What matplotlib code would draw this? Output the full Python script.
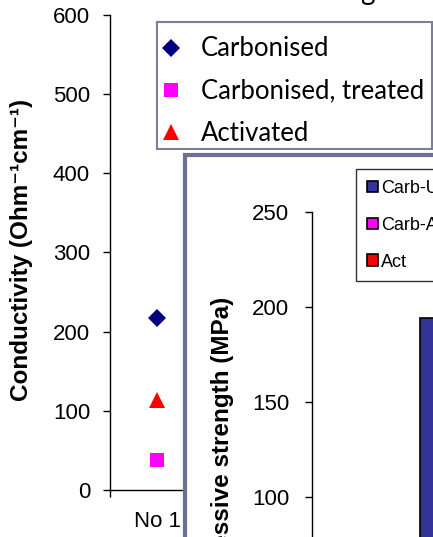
import matplotlib
matplotlib.use("Agg")
import matplotlib.pyplot as plt
from matplotlib.patches import Rectangle, Patch

# ---- data -------------------------------------------------------------
sample_labels = ["No 1"]
conductivity_series = ["Carbonised", "Carbonised, treated", "Activated"]
conductivity_values = [217, 38, 114]          # Ohm^-1 cm^-1
conductivity_ticks = [0, 100, 200, 300, 400, 500, 600]

strength_series = ["Carb-Untreated", "Carb-Acid", "Act"]
strength_values = [194]                       # MPa, first group bar
strength_ticks = [100, 150, 200, 250]

W, H = 433, 537
DPI = 100


def fx(px):
    return px / W


def fy(py):
    return 1 - py / H


def rect(l, t, r, b):
    return [fx(l), fy(b), (r - l) / W, (b - t) / H]


fig = plt.figure(figsize=(W / DPI, H / DPI), dpi=DPI)
fig.patch.set_facecolor("white")

arial = ["Liberation Sans", "DejaVu Sans"]
calibri = "Lato"

# ---- conductivity panel -----------------------------------------------
ax = fig.add_axes(rect(110, 15, 204, 490))
ax.set_zorder(0)
ax.set_xlim(0, 1)
ax.set_ylim(0, 600)
for s in ("top", "right"):
    ax.spines[s].set_visible(False)
for s in ("left", "bottom"):
    ax.spines[s].set_linewidth(1.0)
    ax.spines[s].set_color("black")

markers = ["D", "s", "^"]
colors = ["#000080", "#ff00ff", "#ff0000"]
msizes = [9, 10, 11]
handles = []
for name, val, m, c, ms in zip(conductivity_series, conductivity_values,
                               markers, colors, msizes):
    h, = ax.plot([0.5], [val], linestyle="none", marker=m, color=c,
                 markersize=ms, markeredgewidth=0, label=name, clip_on=False)
    handles.append(h)

ax.set_yticks(conductivity_ticks)
ax.set_yticklabels([str(t) for t in conductivity_ticks])
ax.tick_params(axis="y", direction="out", length=5, width=1, pad=9.4,
               labelsize=16)
ax.set_xticks([0, 1])
ax.set_xticklabels(["", ""])
ax.set_xticks([0.5], minor=True)
ax.set_xticklabels(sample_labels, minor=True)
ax.tick_params(axis="x", which="major", direction="out", length=5, width=1)
ax.tick_params(axis="x", which="minor", length=0, pad=15, labelsize=16)
for lab in ax.get_yticklabels() + ax.get_xticklabels(minor=True):
    lab.set_fontfamily(arial)

fig.text(fx(22), fy(250), "Conductivity (Ohm\u207b\u00b9cm\u207b\u00b9)",
         rotation=90, ha="center", va="center", fontsize=17.5,
         fontweight="bold", family=arial)

# legend entries, with a separate box drawn around them
leg = ax.legend(handles=handles, loc="upper left",
                bbox_to_anchor=(fx(168.5), fy(36.5)),
                bbox_transform=fig.transFigure,
                prop={"family": calibri, "size": 18.5},
                frameon=False, borderpad=0,
                handlelength=0.2, handletextpad=1.05, labelspacing=0.67,
                borderaxespad=0, numpoints=1)
leg_box = Rectangle((fx(157), fy(149)), (432 - 157) / W, (149 - 22) / H,
                    transform=fig.transFigure, facecolor="none",
                    edgecolor="#7a7f95", linewidth=1.5, clip_on=False)
ax.add_patch(leg_box)

# partial heading running off the top edge
fig.text(fx(367), fy(0), "g", ha="center", va="baseline",
         fontsize=20, family=calibri)

# ---- compressive strength panel --------------------------------------
panel = Rectangle((fx(185), fy(560)), (470 - 185) / W, (560 - 155) / H,
                  transform=fig.transFigure, facecolor="white",
                  edgecolor="#6b7291", linewidth=3.0, zorder=1)
fig.add_artist(panel)

px_per_unit = 95 / 50
bottom_px = 212 + 250 * px_per_unit
ax2 = fig.add_axes(rect(312, 212, 312 + 648, bottom_px))
ax2.set_zorder(2)
ax2.patch.set_alpha(0)
ax2.set_ylim(0, 250)
ax2.set_xlim(0, 1)
for s in ("top", "right", "bottom"):
    ax2.spines[s].set_visible(False)
ax2.spines["left"].set_linewidth(1.0)
bar_w = 1 / 4.5
bars = ax2.bar([0.75 / 4.5 + bar_w / 2], strength_values, width=bar_w,
               color="#333399", edgecolor="black", linewidth=1.2,
               label=strength_series[0])
ax2.set_yticks(strength_ticks)
ax2.set_yticklabels([str(t) for t in strength_ticks])
ax2.tick_params(axis="y", direction="out", length=5, width=1, pad=11.5,
                labelsize=16)
ax2.set_xticks([])
for lab in ax2.get_yticklabels():
    lab.set_fontfamily(arial)

fig.text(fx(222), fy(297), "Compressive strength (MPa)", rotation=90,
         ha="center", va="top", fontsize=17.5, fontweight="bold",
         family=arial, zorder=3)

leg_handles = [Patch(facecolor="#333399", edgecolor="black", linewidth=1.2),
               Patch(facecolor="#ff00ff", edgecolor="black", linewidth=1.2),
               Patch(facecolor="#ff0000", edgecolor="black", linewidth=1.2)]
leg2 = ax2.legend(leg_handles, strength_series, loc="upper left",
                  bbox_to_anchor=(fx(356), fy(169)),
                  bbox_transform=fig.transFigure,
                  prop={"family": arial, "size": 13},
                  frameon=True, fancybox=False, borderpad=0.6,
                  handlelength=0.6, handleheight=0.6, handletextpad=0.2,
                  labelspacing=1.1, borderaxespad=0)
leg2.get_frame().set_edgecolor("black")
leg2.get_frame().set_linewidth(1.0)

fig.savefig("out.png", dpi=DPI)
